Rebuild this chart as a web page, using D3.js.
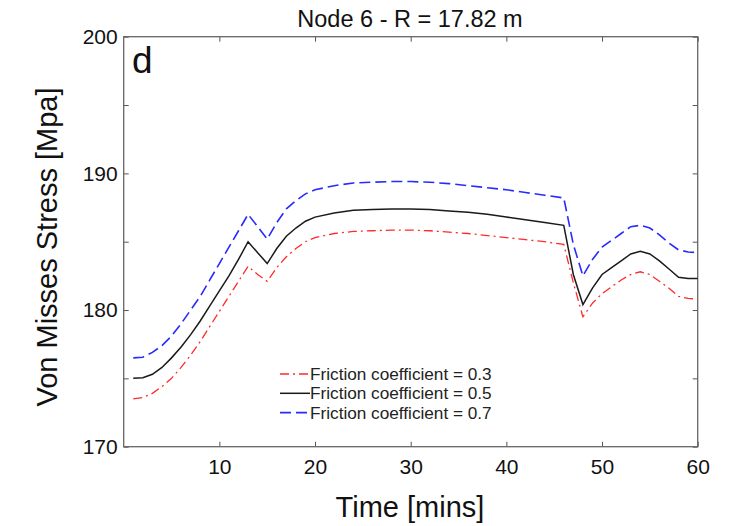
<!DOCTYPE html>
<html>
<head>
<meta charset="utf-8">
<script src="https://cdn.jsdelivr.net/npm/d3@7"></script>
<style>
body{margin:0;background:#fff;}
svg{font-family:"Liberation Sans",Arial,sans-serif;}
</style>
</head>
<body>
<svg width="735" height="526"></svg>
<script>
var times=[1,2,3,4,5,6,7,8,9,10,11,12,13,14,15,16,17,18,19,20,22,24,26,28,30,32,34,36,38,40,42,44,46,47,48,49,50,51,52,53,54,55,56,57,58,59,60];

var mu03=[173.5,173.6,173.9,174.4,175.0,175.8,176.7,177.7,178.8,179.9,181.0,182.1,183.2,182.6,182.1,183.1,183.9,184.5,185.0,185.3,185.6,185.75,185.8,185.85,185.85,185.8,185.7,185.6,185.45,185.3,185.15,185.0,184.8,182.0,179.5,180.5,181.2,181.7,182.2,182.6,182.8,182.6,182.1,181.6,181.0,180.85,180.8];
var mu05=[175.0,175.05,175.3,175.8,176.5,177.3,178.2,179.2,180.3,181.4,182.5,183.7,185.0,184.2,183.4,184.5,185.4,186.0,186.5,186.8,187.1,187.3,187.35,187.4,187.4,187.35,187.25,187.15,187.0,186.8,186.6,186.4,186.2,182.6,180.4,181.6,182.6,183.1,183.6,184.1,184.3,184.1,183.6,183.0,182.4,182.3,182.3];
var mu07=[176.5,176.55,176.9,177.4,178.1,179.0,180.0,181.0,182.2,183.4,184.6,185.8,187.0,186.1,185.2,186.4,187.4,188.0,188.5,188.8,189.1,189.3,189.35,189.4,189.4,189.35,189.25,189.1,188.95,188.8,188.6,188.4,188.2,184.8,182.5,183.7,184.6,185.1,185.6,186.1,186.2,186.0,185.5,184.9,184.4,184.25,184.2];

var seriesNames=["Friction coefficient = 0.3","Friction coefficient = 0.5","Friction coefficient = 0.7"];
var xTicks=[10,20,30,40,50,60];
var yTicks=[170,180,190,200];
var yMinor=[170,175,180,185,190,195,200];

var padL=123.7, padR=697.7, padT=36.7, padB=446.7;
var svg=d3.select("svg");

var x=d3.scaleLinear().domain([0,60]).range([padL,padR]);
var y=d3.scaleLinear().domain([170,200]).range([padB,padT]);

var styles=[
  {color:"#ff2a2a",dash:"9,4,2,4",width:1.3},
  {color:"#1a1a1a",dash:null,width:1.5},
  {color:"#2a2aff",dash:"11,5",width:1.6}
];
var allSeries=[mu03,mu05,mu07];

// ticks on all four sides, pointing inward
svg.append("g").attr("transform","translate(0,"+padB+")")
  .call(d3.axisBottom(x).tickValues(xTicks).tickSize(-5).tickSizeOuter(0).tickPadding(12).tickFormat(d3.format("d")))
  .call(g=>g.select(".domain").remove())
  .call(g=>g.selectAll("line").attr("stroke","#555"))
  .call(g=>g.selectAll("text").attr("font-size",21).attr("fill","#111").attr("font-family","Liberation Sans, Arial"));
svg.append("g").attr("transform","translate(0,"+padT+")")
  .call(d3.axisTop(x).tickValues(xTicks).tickSize(-5).tickSizeOuter(0).tickFormat(""))
  .call(g=>g.select(".domain").remove())
  .call(g=>g.selectAll("line").attr("stroke","#555"));
svg.append("g").attr("transform","translate("+padL+",0)")
  .call(d3.axisLeft(y).tickValues(yMinor).tickSize(-5).tickSizeOuter(0).tickPadding(6).tickFormat(d=>yTicks.indexOf(d)>=0?d:""))
  .call(g=>g.select(".domain").remove())
  .call(g=>g.selectAll("line").attr("stroke","#555"))
  .call(g=>g.selectAll("text").attr("font-size",21).attr("fill","#111").attr("font-family","Liberation Sans, Arial"));
svg.append("g").attr("transform","translate("+padR+",0)")
  .call(d3.axisRight(y).tickValues(yMinor).tickSize(-5).tickSizeOuter(0).tickFormat(""))
  .call(g=>g.select(".domain").remove())
  .call(g=>g.selectAll("line").attr("stroke","#555"));

svg.append("rect").attr("x",padL).attr("y",padT).attr("width",padR-padL).attr("height",padB-padT)
  .attr("fill","none").attr("stroke","#666").attr("stroke-width",1.3);

var line=d3.line().x((d,i)=>x(times[i])).y(d=>y(d));
allSeries.forEach(function(s,i){
  svg.append("path").datum(s).attr("d",line).attr("fill","none")
    .attr("stroke",styles[i].color).attr("stroke-width",styles[i].width)
    .attr("stroke-dasharray",styles[i].dash);
});

// legend
var leg=svg.append("g");
seriesNames.forEach(function(n,i){
  var ly=374+i*19.3;
  leg.append("line").attr("x1",280).attr("x2",310).attr("y1",ly).attr("y2",ly)
    .attr("stroke",styles[i].color).attr("stroke-width",styles[i].width)
    .attr("stroke-dasharray",styles[i].dash);
  leg.append("text").attr("x",310).attr("y",ly+6).attr("font-size",17.2).attr("fill","#222").text(n);
});

svg.append("text").attr("x",132).attr("y",73).attr("font-size",37).attr("fill","#111").text("d");
svg.append("text").attr("x",410).attr("y",26.5).attr("text-anchor","middle").attr("font-size",23.5).attr("fill","#111").text("Node 6 - R = 17.82 m");
svg.append("text").attr("x",410).attr("y",517).attr("text-anchor","middle").attr("font-size",29).attr("fill","#111").text("Time [mins]");
svg.append("text").attr("transform","translate(57,247) rotate(-90)").attr("text-anchor","middle").attr("font-size",29).attr("fill","#111").text("Von Misses Stress [Mpa]");
</script>
</body>
</html>
